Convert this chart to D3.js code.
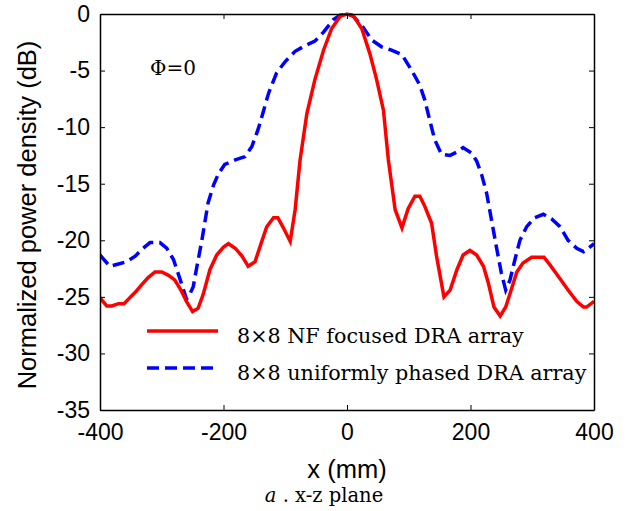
<!DOCTYPE html>
<html>
<head>
<meta charset="utf-8">
<script src="https://cdn.jsdelivr.net/npm/d3@7"></script>
<style>
  body { margin: 0; background: #fff; }
  svg { display: block; }
  .tick text { font-family: "Liberation Sans", Arial, sans-serif; font-size: 23px; fill: #000; }
</style>
</head>
<body>
<div class="canvas"></div>
<script>
// red: 8x8 NF focused DRA array
const nfX = [-400, -389, -381, -370, -361, -354, -343, -332, -322, -311, -300, -289, -279, -269, -260, -250, -241, -233, -222, -211, -200, -192, -181, -170, -160, -149, -138, -130, -119, -112, -103, -92, -84, -76, -65, -52, -38, -25, -11, 0, 11, 24, 37, 48, 59, 67, 78, 89, 99, 110, 118, 126, 137, 145, 157, 167, 178, 188, 199, 210, 221, 229, 238, 248, 257, 267, 275, 285, 299, 319, 329, 345, 358, 372, 383, 388, 400];
const nfY = [-25.1, -25.8, -25.8, -25.6, -25.6, -25.2, -24.6, -23.9, -23.3, -22.8, -22.8, -23.1, -23.5, -24.4, -25.4, -26.3, -26.0, -24.8, -22.6, -21.3, -20.6, -20.3, -20.7, -21.4, -22.3, -21.9, -20.1, -18.8, -18.0, -18.0, -18.9, -20.1, -17.3, -12.9, -8.8, -5.8, -3.2, -1.3, -0.2, 0, -0.2, -1.3, -3.5, -5.8, -8.5, -12.9, -17.3, -18.9, -17.2, -16.1, -16.1, -17.0, -18.5, -21.4, -25.0, -24.4, -22.6, -21.3, -20.9, -21.3, -22.3, -23.8, -25.9, -26.7, -25.9, -24.2, -22.8, -22.0, -21.5, -21.5, -22.2, -23.4, -24.4, -25.4, -25.9, -25.9, -25.4];

// blue: 8x8 uniformly phased DRA array
const upX = [-400, -384, -370, -357, -343, -330, -319, -303, -292, -281, -270, -260, -254, -249, -243, -235, -225, -216, -208, -198, -181, -165, -154, -144, -138, -127, -114, -100, -84, -68, -52, -38, -22, -11, 0, 8, 24, 40, 56, 72, 89, 105, 118, 126, 134, 142, 153, 167, 178, 188, 202, 210, 218, 226, 234, 242, 250, 257, 264, 272, 280, 291, 304, 318, 331, 345, 358, 372, 383, 391, 400];
const upY = [-21.3, -22.3, -22.1, -21.9, -21.4, -20.7, -20.2, -20.2, -20.7, -21.7, -23.5, -25.2, -24.7, -24.1, -22.3, -20.0, -16.7, -15.1, -14.1, -13.3, -12.9, -12.6, -11.7, -10.2, -9.1, -7.0, -5.2, -4.2, -3.3, -2.8, -2.4, -1.6, -0.5, -0.1, 0, -0.1, -1.0, -2.3, -2.9, -3.2, -3.6, -5.0, -6.3, -7.6, -9.4, -11.1, -12.4, -12.5, -12.2, -11.8, -12.3, -13.0, -14.2, -15.8, -18.2, -20.6, -22.9, -24.4, -23.5, -21.7, -20.0, -18.8, -18.0, -17.7, -18.1, -18.8, -20.0, -20.7, -21.0, -20.7, -20.3];

const xTicks = [-400, -200, 0, 200, 400];
const yTicks = [0, -5, -10, -15, -20, -25, -30, -35];
const legendLabels = ['8\u00d78 NF focused DRA array', '8\u00d78 uniformly phased DRA array'];

const width = 627, height = 511;
const padL = 100, padR = 594, padT = 14, padB = 410;

const svg = d3.select('.canvas')
    .append('svg')
    .attr('width', width)
    .attr('height', height)
    ;

const xScale = d3.scaleLinear().domain([-400, 400]).range([padL, padR]);
const yScale = d3.scaleLinear().domain([-35, 0]).range([padB, padT]);

svg.append('defs').append('clipPath').attr('id', 'clip')
    .append('rect')
    .attr('x', padL).attr('y', padT - 2)
    .attr('width', padR - padL).attr('height', padB - padT + 2);

const line = d3.line()
    .x(d => xScale(d[0]))
    .y(d => yScale(d[1]));

const plot = svg.append('g').attr('clip-path', 'url(#clip)');

plot.append('path')
    .datum(upX.map((x, i) => [x, upY[i]]))
    .attr('d', line)
    .attr('fill', 'none')
    .attr('stroke', '#0000ff')
    .attr('stroke-width', 3.5)
    .attr('stroke-dasharray', '12,6');

plot.append('path')
    .datum(nfX.map((x, i) => [x, nfY[i]]))
    .attr('d', line)
    .attr('fill', 'none')
    .attr('stroke', '#ff0000')
    .attr('stroke-width', 3.5);

// axes, ticks inward on all four sides (plain hyphen minus like the original)
const fmt = d => String(d);
const axes = [
    [d3.axisBottom(xScale).tickValues(xTicks).tickFormat(fmt).tickSizeInner(-5).tickSizeOuter(0).tickPadding(14), `translate(0,${padB})`, true],
    [d3.axisTop(xScale).tickValues(xTicks).tickSizeInner(-5).tickSizeOuter(0), `translate(0,${padT})`, false],
    [d3.axisLeft(yScale).tickValues(yTicks).tickFormat(fmt).tickSizeInner(-5).tickSizeOuter(0).tickPadding(10), `translate(${padL},0)`, true],
    [d3.axisRight(yScale).tickValues(yTicks).tickSizeInner(-5).tickSizeOuter(0), `translate(${padR},0)`, false]
];
axes.forEach(([ax, tr, labels]) => {
    const g = svg.append('g').attr('transform', tr).call(ax);
    g.select('.domain').attr('stroke', '#000').attr('stroke-width', 1.5);
    g.selectAll('.tick line').attr('stroke', '#000').attr('stroke-width', 1);
    if (!labels) g.selectAll('.tick text').remove();
});

svg.append('text')
    .attr('x', (padL + padR) / 2)
    .attr('y', 478)
    .attr('text-anchor', 'middle')
    .attr('font-family', '"Liberation Sans", Arial, sans-serif')
    .attr('font-size', 25.5)
    .text('x (mm)');

svg.append('text')
    .attr('transform', `translate(36, ${(38 + 392) / 2}) rotate(-90)`)
    .attr('text-anchor', 'middle')
    .attr('font-family', '"Liberation Sans", Arial, sans-serif')
    .attr('font-size', 25.5)
    .text('Normalized power density (dB)');

svg.append('text')
    .attr('x', 150)
    .attr('y', 75)
    .attr('font-family', '"DejaVu Serif", serif')
    .attr('font-size', 20)
    .text('\u03a6=0');

// legend
const legend = svg.append('g');
[['#ff0000', null], ['#0000ff', '12,6']].forEach(([c, dash], i) => {
    const y = 331 + i * 37;
    legend.append('line')
        .attr('x1', 147).attr('x2', 218)
        .attr('y1', y).attr('y2', y)
        .attr('stroke', c)
        .attr('stroke-width', 3.5)
        .attr('stroke-dasharray', dash);
    legend.append('text')
        .attr('x', 237)
        .attr('y', y + 12)
        .attr('font-family', '"DejaVu Serif", serif')
        .attr('font-size', 20.7)
        .text(legendLabels[i]);
});

const cap = svg.append('text')
    .attr('x', 324)
    .attr('y', 502)
    .attr('text-anchor', 'middle')
    .attr('font-family', '"DejaVu Serif", serif')
    .attr('font-size', 19.5);
cap.append('tspan').attr('font-style', 'italic').text('a');
cap.append('tspan').text(' . x-z plane');
</script>
</body>
</html>
